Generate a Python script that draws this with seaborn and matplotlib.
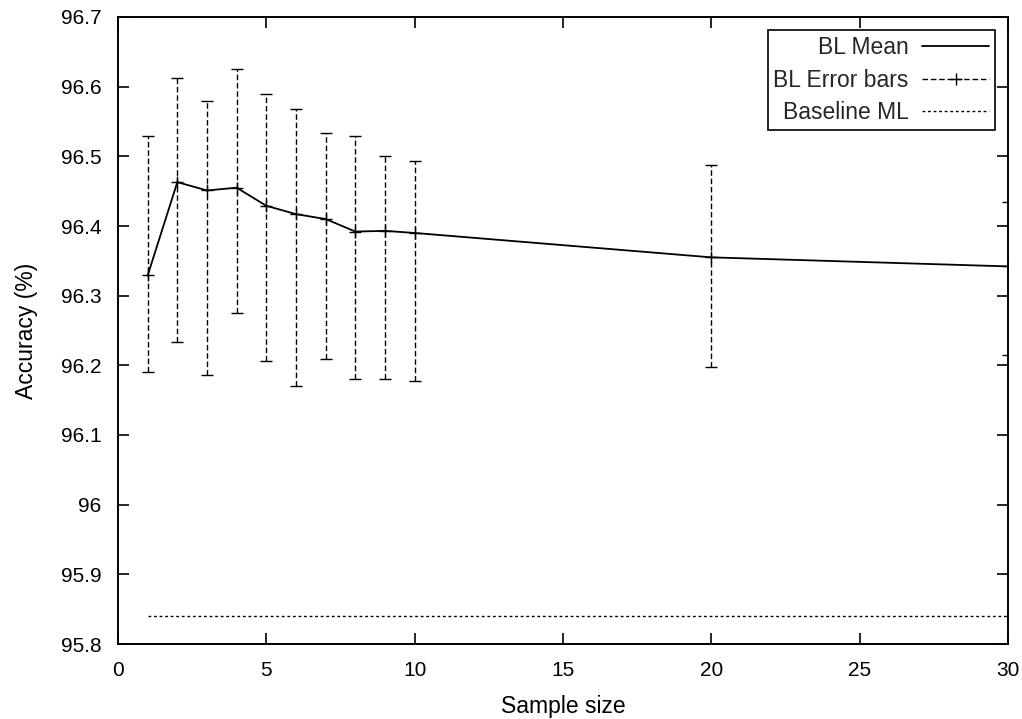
import matplotlib
matplotlib.use("Agg")
import matplotlib.pyplot as plt
from matplotlib.lines import Line2D
import seaborn as sns
import numpy as np
import pandas as pd

# Data
sample_size = [1, 2, 3, 4, 5, 6, 7, 8, 9, 10, 20, 30]
bl_mean = [96.329, 96.463, 96.451, 96.455, 96.429, 96.417, 96.410, 96.392, 96.393, 96.390, 96.355, 96.342]
bl_upper = [96.529, 96.612, 96.579, 96.626, 96.590, 96.568, 96.533, 96.529, 96.501, 96.494, 96.487, 96.435]
bl_lower = [96.191, 96.234, 96.186, 96.275, 96.206, 96.171, 96.209, 96.181, 96.181, 96.178, 96.198, 96.215]
baseline_x = [1, 30]
baseline_ml = [95.84, 95.84]

x_ticks = [0, 5, 10, 15, 20, 25, 30]
y_ticks = [95.8, 95.9, 96.0, 96.1, 96.2, 96.3, 96.4, 96.5, 96.6, 96.7]
y_tick_labels = ["95.8", "95.9", "96", "96.1", "96.2", "96.3", "96.4", "96.5", "96.6", "96.7"]
legend_labels = ["BL Mean", "BL Error bars", "Baseline ML"]

sns.set_theme(style="ticks")
plt.rcParams['font.family'] = ['Liberation Sans', 'DejaVu Sans']

fig = plt.figure(figsize=(10.22, 7.19), dpi=100)
ax = fig.add_axes([118 / 1022, 1 - 644 / 719, (1008 - 118) / 1022, (644 - 17) / 719])

df = pd.DataFrame({"x": sample_size, "mean": bl_mean})
sns.lineplot(data=df, x="x", y="mean", ax=ax, color="black", linewidth=1.3, zorder=3)

mean_arr = np.array(bl_mean)
yerr = np.vstack([mean_arr - np.array(bl_lower), np.array(bl_upper) - mean_arr])
eb = ax.errorbar(sample_size, bl_mean, yerr=yerr, fmt="+", color="black",
                 markersize=8, markeredgewidth=1.0, ecolor="black",
                 elinewidth=1.0, capsize=4.5, capthick=1.0, zorder=2)
for lc in eb[2]:
    lc.set_linestyle((0, (4, 2)))

sns.lineplot(x=baseline_x, y=baseline_ml, ax=ax, color="black", linewidth=1.0,
             linestyle=(0, (2, 2)))

ax.set_xlim(0, 30)
ax.set_ylim(95.8, 96.7)
ax.set_xticks(x_ticks)
ax.set_xticklabels([str(t) for t in x_ticks])
ax.set_yticks(y_ticks)
ax.set_yticklabels(y_tick_labels)
ax.tick_params(direction="in", length=8, width=1.2, top=True, right=True,
               labelsize=15, colors="black")
ax.tick_params(axis="x", pad=12)
ax.tick_params(axis="y", pad=12)
for s in ax.spines.values():
    s.set_visible(True)
    s.set_color("black")
    s.set_linewidth(1.4)

ax.set_xlabel("Sample size", fontsize=16.5, color="black", labelpad=11)
ax.set_ylabel("Accuracy (%)", fontsize=16.5, color="black", labelpad=16)

h_mean = Line2D([], [], color="black", linewidth=1.3)
h_err = Line2D([], [], color="black", linewidth=1.0, linestyle=(0, (4, 2)),
               marker="+", markersize=8, markeredgewidth=1.0)
h_base = Line2D([], [], color="black", linewidth=1.0, linestyle=(0, (2, 2)))
leg = ax.legend([h_mean, h_err, h_base], legend_labels, loc="upper right",
                bbox_to_anchor=(0.985, 0.979), markerfirst=False, fontsize=16.5,
                handlelength=2.9, handletextpad=0.6, labelspacing=0.42,
                borderpad=0.25, borderaxespad=0, fancybox=False, framealpha=1,
                edgecolor="black", numpoints=1)
leg.get_frame().set_linewidth(1.2)

fig.savefig("out.png", dpi=100)
